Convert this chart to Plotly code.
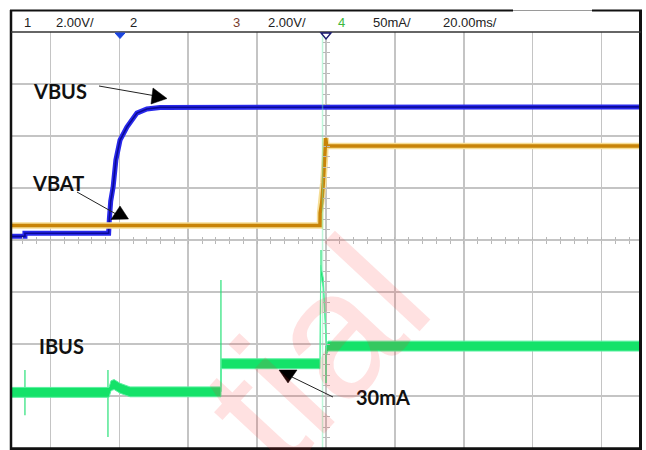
import plotly.graph_objects as go

# ---------------- data (time in ms, amplitude in divisions) ----------------
vbus_t = [-91.4, -87.4, -87.4, -63.1, -62.9, -62.5, -61.8, -61.0, -59.8, -57.8, -54.9, -52.0, -48.2, 91.4]
vbus_v = [0.07, 0.07, 0.13, 0.13, 0.40, 0.75, 1.02, 1.54, 1.92, 2.17, 2.44, 2.52, 2.55, 2.56]

vbat_t = [-91.4, -1.74, -1.70, -1.25, -0.78, -0.29, -0.09, 0.20, 91.4]
vbat_v = [0.28, 0.28, 0.52, 0.71, 1.10, 1.60, 1.96, 1.81, 1.81]

ibus_t = [-91.4, -63.0, -62.4, -61.5, -59.8, -56.9, -30.5, -30.45, -1.74, -1.55, -0.78, -0.29, 0.0, 0.2, 0.58, 91.4]
ibus_v = [-2.93, -2.93, -2.80, -2.78, -2.85, -2.92, -2.92, -2.38, -2.38, -0.58, -0.83, -1.48, -1.73, -2.10, -2.04, -2.04]
ibus_noise = 0.095  # half height of the noise band, in divisions

# thin glitches on IBUS (segments separated by None)
glitch_t = [-87.4, -87.4, None, -63.3, -63.3, None, -30.5, -30.5, None, -1.45, -1.45, None, 0.0, 0.0]
glitch_v = [-2.50, -3.37, None, -2.50, -3.79, None, -2.92, -0.77, None, -0.19, -0.58, None, -2.04, -2.75]

edge_t = [-1.0, -1.0]
edge_v = [-4.0, 4.0]

header_labels = ["1", "2.00V/", "2", "3", "2.00V/", "4", "50mA/", "20.00ms/"]
header_x = [22, 54, 128, 231, 266, 336, 371, 441]
header_colors = ["#222", "#222", "#222", "#7a3b2e", "#222", "#3cb83c", "#222", "#222"]

XR = [-91.45, 91.45]
YR = [-4, 4]

# pixel helpers for layout decorations (plot area spans x 11..641, y 32..448)
def px(x):
    return (x - 11) / 630.0

def py(y):
    return (448 - y) / 416.0

fig = go.Figure()

# VBUS
fig.add_trace(go.Scatter(x=vbus_t, y=vbus_v, mode="lines",
                         line=dict(color="rgb(40,40,235)", width=5), hoverinfo="skip"))
fig.add_trace(go.Scatter(x=vbus_t, y=vbus_v, mode="lines",
                         line=dict(color="rgb(10,10,150)", width=1.6), hoverinfo="skip"))
# VBAT
fig.add_trace(go.Scatter(x=vbat_t, y=vbat_v, mode="lines",
                         line=dict(color="rgb(246,222,150)", width=6.5), hoverinfo="skip"))
fig.add_trace(go.Scatter(x=vbat_t, y=vbat_v, mode="lines",
                         line=dict(color="rgb(200,132,8)", width=3.5), hoverinfo="skip"))
# IBUS
fig.add_trace(go.Scatter(x=edge_t, y=edge_v, mode="lines",
                         line=dict(color="rgba(110,235,170,0.45)", width=1.5), hoverinfo="skip"))
fig.add_trace(go.Scatter(x=glitch_t, y=glitch_v, mode="lines",
                         line=dict(color="rgb(40,225,120)", width=1.2), hoverinfo="skip"))
ibus_lo = [v - ibus_noise for v in ibus_v]
ibus_hi = [v + ibus_noise for v in ibus_v]
fig.add_trace(go.Scatter(x=ibus_t, y=ibus_lo, mode="lines",
                         line=dict(color="rgb(90,240,160)", width=1), hoverinfo="skip"))
fig.add_trace(go.Scatter(x=ibus_t, y=ibus_hi, mode="lines", fill="tonexty",
                         fillcolor="rgb(20,226,105)",
                         line=dict(color="rgb(90,240,160)", width=1), hoverinfo="skip"))

grid = "#c4c4c4"
axis_common = dict(showticklabels=False, ticks="", showline=False, fixedrange=True)
fig.update_layout(
    width=646, height=450,
    margin=dict(l=11, r=5, t=32, b=2, pad=0),
    paper_bgcolor="white", plot_bgcolor="white",
    showlegend=False,
    xaxis=dict(range=XR, dtick=20, tick0=0, showgrid=True, gridcolor=grid, gridwidth=1.6,
               zeroline=True, zerolinecolor=grid, zerolinewidth=1.6, **axis_common),
    yaxis=dict(range=YR, dtick=1, tick0=0, showgrid=True, gridcolor=grid, gridwidth=1.6,
               zeroline=True, zerolinecolor=grid, zerolinewidth=1.6, **axis_common),
    xaxis2=dict(range=XR, overlaying="x", anchor="free", position=0.5, dtick=4, tick0=0,
                ticks="outside", ticklen=3, tickwidth=1, tickcolor="#b8b8b8",
                showticklabels=False, showgrid=False, zeroline=False, showline=False),
    xaxis3=dict(range=XR, overlaying="x", anchor="free", position=0.5, dtick=4, tick0=0,
                ticks="inside", ticklen=3, tickwidth=1, tickcolor="#b8b8b8",
                showticklabels=False, showgrid=False, zeroline=False, showline=False),
    yaxis2=dict(range=YR, overlaying="y", anchor="free", position=0.5, dtick=0.2, tick0=0,
                ticks="outside", ticklen=3, tickwidth=1, tickcolor="#b8b8b8",
                showticklabels=False, showgrid=False, zeroline=False, showline=False),
    yaxis3=dict(range=YR, overlaying="y", anchor="free", position=0.5, dtick=0.2, tick0=0,
                ticks="inside", ticklen=3, tickwidth=1, tickcolor="#b8b8b8",
                showticklabels=False, showgrid=False, zeroline=False, showline=False),
)
# invisible traces to activate the tick-only center axes
fig.add_trace(go.Scatter(x=[0], y=[0], xaxis="x2", yaxis="y2", mode="markers",
                         marker=dict(opacity=0), hoverinfo="skip"))
fig.add_trace(go.Scatter(x=[0], y=[0], xaxis="x3", yaxis="y3", mode="markers",
                         marker=dict(opacity=0), hoverinfo="skip"))

shapes = []
# white boxes behind labels (above grid, below traces)
for (x0, y0, x1, y1) in [(12, 62, 127, 115), (14, 168, 100, 200), (17, 318, 115, 370), (333, 372, 440, 413)]:
    shapes.append(dict(type="rect", xref="paper", yref="paper", x0=px(x0), x1=px(x1), y0=py(y0), y1=py(y1),
                       fillcolor="white", line=dict(width=0), layer="between"))
# frame
blk = "#111"
shapes += [
    dict(type="line", xref="paper", yref="paper", x0=px(10), x1=px(513), y0=py(10.5), y1=py(10.5), line=dict(color=blk, width=2)),
    dict(type="line", xref="paper", yref="paper", x0=px(513), x1=px(592), y0=py(10.5), y1=py(10.5), line=dict(color="#9a9a9a", width=1)),
    dict(type="line", xref="paper", yref="paper", x0=px(592), x1=px(642), y0=py(10.5), y1=py(10.5), line=dict(color=blk, width=2)),
    dict(type="line", xref="paper", yref="paper", x0=px(11), x1=px(11), y0=py(10), y1=py(450), line=dict(color=blk, width=2.5)),
    dict(type="line", xref="paper", yref="paper", x0=px(640.5), x1=px(640.5), y0=py(10), y1=py(450), line=dict(color=blk, width=3)),
    dict(type="line", xref="paper", yref="paper", x0=px(10), x1=px(642), y0=py(448.8), y1=py(448.8), line=dict(color=blk, width=3)),
    dict(type="line", xref="paper", yref="paper", x0=px(11), x1=px(641), y0=py(32), y1=py(32), line=dict(color="#333", width=1.5)),
]
# trigger / position markers
def tri(pts):
    return "M " + " L ".join(f"{px(a):.5f},{py(b):.5f}" for a, b in pts) + " Z"

shapes.append(dict(type="path", xref="paper", yref="paper", path=tri([(115, 33), (125, 33), (120, 38.5)]),
                   fillcolor="#1a44e0", line=dict(color="#1a44e0", width=1)))
shapes.append(dict(type="path", xref="paper", yref="paper", path=tri([(321, 33), (331, 33), (326, 39)]),
                   fillcolor="white", line=dict(color="#1a1a70", width=1.4)))
# arrows
arrows = [((99, 86), (156, 96), [(153, 88), (167, 98.5), (151, 104)]),
          ((77, 192), (116, 214), [(120, 206), (111, 219.5), (128.5, 219)]),
          ((333, 397), (292, 377), [(279, 370), (297, 370), (288, 383)])]
for (a, b, t) in arrows:
    shapes.append(dict(type="line", xref="paper", yref="paper", x0=px(a[0]), y0=py(a[1]), x1=px(b[0]), y1=py(b[1]),
                       line=dict(color="#222", width=1)))
    shapes.append(dict(type="path", xref="paper", yref="paper", path=tri(t), fillcolor="#000", line=dict(color="#000", width=0.5)))
fig.update_layout(shapes=shapes)

annotations = []
for lab, x, c in zip(header_labels, header_x, header_colors):
    annotations.append(dict(text=lab, xref="paper", yref="paper", x=px(x), y=py(22), xanchor="left", yanchor="middle",
                            showarrow=False, font=dict(family="Liberation Sans, Arial", size=13, color=c)))
for lab, x, y in [("VBUS", 60, 91), ("VBAT", 58, 183), ("IBUS", 61, 346), ("30mA", 383, 397)]:
    annotations.append(dict(text=f"<b>{lab}</b>", xref="paper", yref="paper", x=px(x), y=py(y),
                            xanchor="center", yanchor="middle", showarrow=False,
                            font=dict(family="Lato, Open Sans, sans-serif", size=20, color="#111")))
# watermark
annotations.append(dict(text="tial", xref="paper", yref="paper", x=px(314), y=py(352), xanchor="center", yanchor="middle",
                        showarrow=False, textangle=-47,
                        font=dict(family="Liberation Sans, Arial", size=180, color="rgba(255,40,40,0.14)")))
fig.update_layout(annotations=annotations)

fig.write_html("out.html", config={"displayModeBar": False, "staticPlot": True},
               post_script="document.body.style.margin='0';document.body.style.padding='0';")
